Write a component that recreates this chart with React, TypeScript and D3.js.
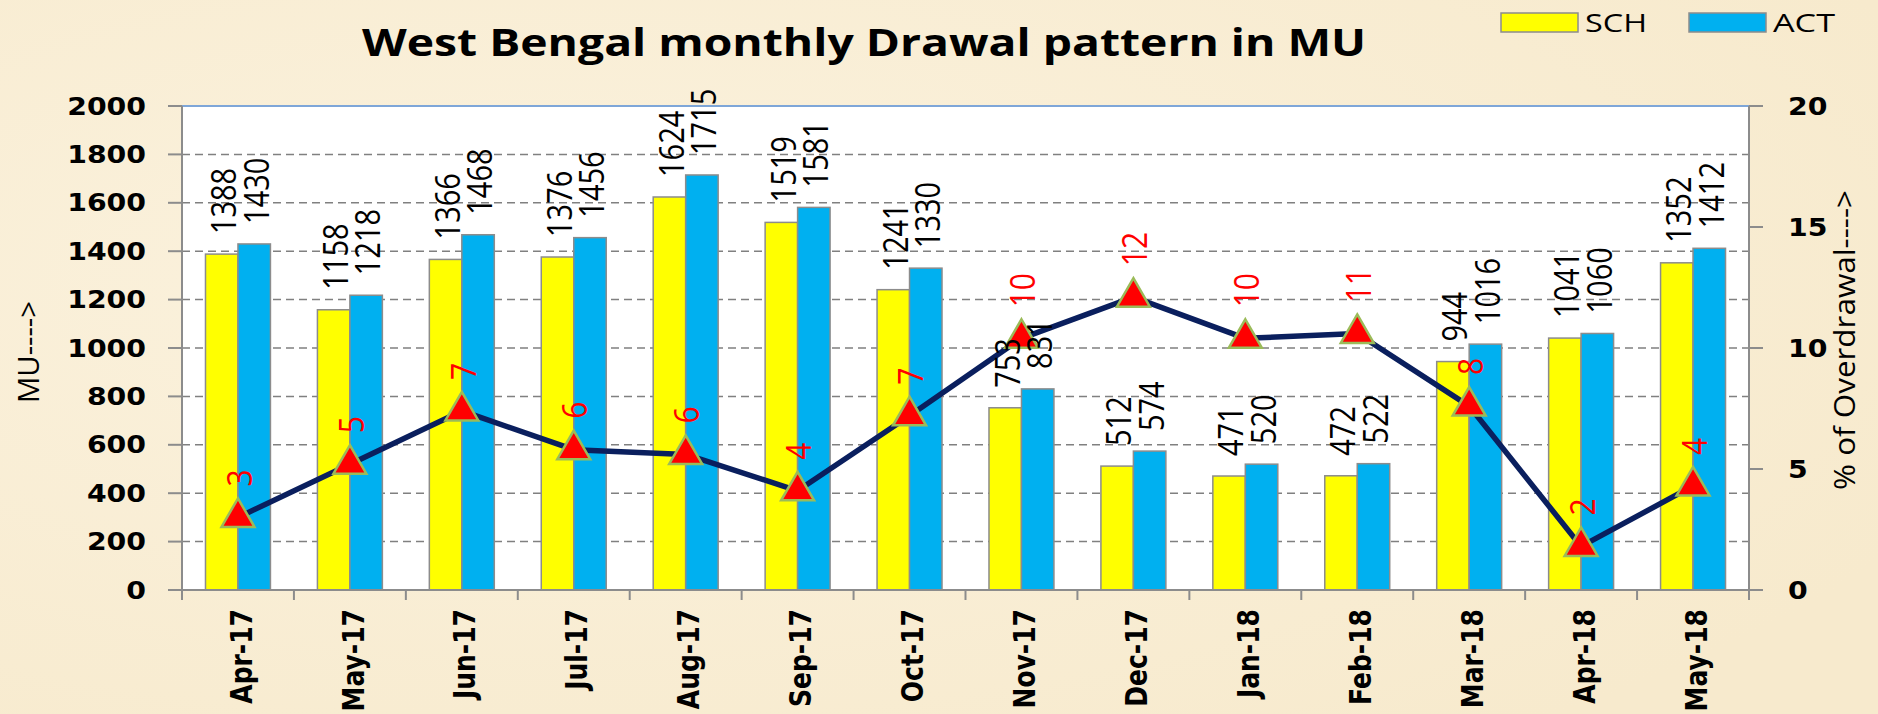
import React from 'react';
import * as d3 from 'd3';

const months = ['Apr-17','May-17','Jun-17','Jul-17','Aug-17','Sep-17','Oct-17','Nov-17','Dec-17','Jan-18','Feb-18','Mar-18','Apr-18','May-18'];
const schValues = [1388,1158,1366,1376,1624,1519,1241,753,512,471,472,944,1041,1352];
const actValues = [1430,1218,1468,1456,1715,1581,1330,831,574,520,522,1016,1060,1412];
const overdrawalPct = [3.0,5.2,7.4,5.8,5.6,4.1,7.2,10.4,12.1,10.4,10.6,7.6,1.8,4.3];
const leftTicks = [0,200,400,600,800,1000,1200,1400,1600,1800,2000];
const rightTicks = [0,5,10,15,20];
const seriesNames = ['SCH','ACT'];
const seriesColors = ['#FFFF00','#00B0F0'];
const title = 'West Bengal monthly Drawal pattern in MU';
const leftTitle = 'MU---->';
const rightTitle = '% of Overdrawal---->';

const W = 1878, H = 714;
const P = { left: 182, right: 1749, top: 106, bottom: 590 };
const SX = 1.18;
const bold = '"DejaVu Sans", Verdana, sans-serif';
const reg = '"Open Sans", "Noto Sans", sans-serif';

export default function App() {
  const x = d3.scaleBand<string>().domain(months).range([P.left, P.right]).padding(0);
  const xi = d3.scaleBand<string>().domain(seriesNames).range([0, x.step()]).paddingInner(0).paddingOuter(0.723);
  const y = d3.scaleLinear().domain([0, 2000]).range([P.bottom, P.top]);
  const y2 = d3.scaleLinear().domain([0, 20]).range([P.bottom, P.top]);
  const cx = (m: string) => (x(m) as number) + x.bandwidth() / 2;
  const line = d3.line<number>().x((_, i) => cx(months[i])).y(d => y2(d));
  const tri = d3.symbol().type(d3.symbolTriangle).size(470)() as string;
  const series = [schValues, actValues];

  return (
    <svg width={W} height={H} style={{ position: 'absolute', left: 0, top: 0 }}>
      <defs>
        <radialGradient id="bg" cx="30%" cy="40%" r="80%">
          <stop offset="0%" stopColor="#FBF2DE" />
          <stop offset="100%" stopColor="#F7EACD" />
        </radialGradient>
      </defs>
      <rect x={0} y={0} width={W} height={H} fill="url(#bg)" />
      <text x={864} y={56} textAnchor="middle" fontFamily={reg} fontWeight={700} fontSize={37} textLength={1004} lengthAdjust="spacingAndGlyphs" fill="#000">{title}</text>

      {/* legend */}
      {seriesNames.map((s, i) => (
        <g key={s}>
          <rect x={1501 + i * 188} y={13} width={77} height={19} fill={seriesColors[i]} stroke="#8C8C8C" strokeWidth={1.5} />
          <text x={1585 + i * 188} y={32} fontFamily={reg} fontSize={26} textLength={62} lengthAdjust="spacingAndGlyphs" fill="#000">{s}</text>
        </g>
      ))}

      <rect x={P.left} y={P.top} width={P.right - P.left} height={P.bottom - P.top} fill="#FFFFFF" />
      {leftTicks.filter(t => t > 0 && t < 2000).map(t => (
        <line key={t} x1={P.left} x2={P.right} y1={y(t)} y2={y(t)} stroke="#808080" strokeWidth={1.5} strokeDasharray="8 5" />
      ))}

      {/* bars */}
      {months.map((m, i) => (
        <g key={m}>
          {series.map((vals, k) => (
            <rect key={k} x={(x(m) as number) + (xi(seriesNames[k]) as number)} y={y(vals[i])} width={xi.bandwidth()} height={P.bottom - y(vals[i])} fill={seriesColors[k]} stroke="#8C8C8C" strokeWidth={1.5} />
          ))}
        </g>
      ))}

      {/* plot borders & axes */}
      <line x1={P.left} x2={P.right} y1={P.top} y2={P.top} stroke="#7EA6D8" strokeWidth={2} />
      <line x1={P.left} x2={P.left} y1={P.top} y2={P.bottom + 10} stroke="#8C8C8C" strokeWidth={2} />
      <line x1={P.right} x2={P.right} y1={P.top} y2={P.bottom + 10} stroke="#8C8C8C" strokeWidth={2} />
      <line x1={P.left - 14} x2={P.right + 14} y1={P.bottom} y2={P.bottom} stroke="#8C8C8C" strokeWidth={2} />
      {leftTicks.map(t => (
        <g key={t}>
          <line x1={P.left - 14} x2={P.left} y1={y(t)} y2={y(t)} stroke="#8C8C8C" strokeWidth={2} />
          <text transform={`translate(146,${y(t)}) scale(${SX},1)`} textAnchor="end" dy="0.36em" fontFamily={bold} fontWeight={700} fontSize={24} fill="#000">{t}</text>
        </g>
      ))}
      {rightTicks.map(t => (
        <g key={t}>
          <line x1={P.right} x2={P.right + 14} y1={y2(t)} y2={y2(t)} stroke="#8C8C8C" strokeWidth={2} />
          <text transform={`translate(1788,${y2(t)}) scale(${SX},1)`} textAnchor="start" dy="0.36em" fontFamily={bold} fontWeight={700} fontSize={24} fill="#000">{t}</text>
        </g>
      ))}
      {[...months.map(m => x(m) as number), P.right].map((bx, i) => (
        <line key={i} x1={bx} x2={bx} y1={P.bottom} y2={P.bottom + 10} stroke="#8C8C8C" strokeWidth={2} />
      ))}
      {months.map(m => (
        <text key={m} transform={`translate(${cx(m) + 3},609) scale(${SX},1) rotate(-90)`} textAnchor="end" dy="0.36em" fontFamily={bold} fontWeight={700} fontSize={25} fill="#000">{m}</text>
      ))}

      <text transform={`translate(29,352) scale(1.1,1) rotate(-90)`} textAnchor="middle" dy="0.36em" fontFamily={reg} fontSize={26} textLength={102} lengthAdjust="spacingAndGlyphs" fill="#000">{leftTitle}</text>
      <text transform={`translate(1845,340) scale(1.1,1) rotate(-90)`} textAnchor="middle" dy="0.36em" fontFamily={reg} fontSize={26} textLength={300} lengthAdjust="spacingAndGlyphs" fill="#000">{rightTitle}</text>

      {/* overdrawal line */}
      <path d={line(overdrawalPct) as string} fill="none" stroke="#0A1F5E" strokeWidth={5.5} strokeLinejoin="round" />
      {overdrawalPct.map((v, i) => (
        <path key={i} d={tri} transform={`translate(${cx(months[i])},${y2(v)})`} fill="#FF0000" stroke="#9BBB59" strokeWidth={2.5} />
      ))}

      {/* bar labels */}
      {months.map((m, i) => (
        <g key={m}>
          {series.map((vals, k) => (
            <text key={k} transform={`translate(${(x(m) as number) + (xi(seriesNames[k]) as number) + xi.bandwidth() / 2 + 2},${y(vals[i]) - 20}) scale(${SX},1) rotate(-90)`} textAnchor="start" dy="0.36em" fontFamily={reg} fontWeight={500} fontSize={29} fill="#000">{vals[i]}</text>
          ))}
        </g>
      ))}
      {overdrawalPct.map((v, i) => (
        <text key={i} transform={`translate(${cx(months[i]) + 1},${y2(v) - 31}) scale(${SX},1) rotate(-90)`} textAnchor="start" dy="0.36em" fontFamily={reg} fontWeight={500} fontSize={30} fill="#FF0000">{d3.format('.0f')(v)}</text>
      ))}
    </svg>
  );
}
